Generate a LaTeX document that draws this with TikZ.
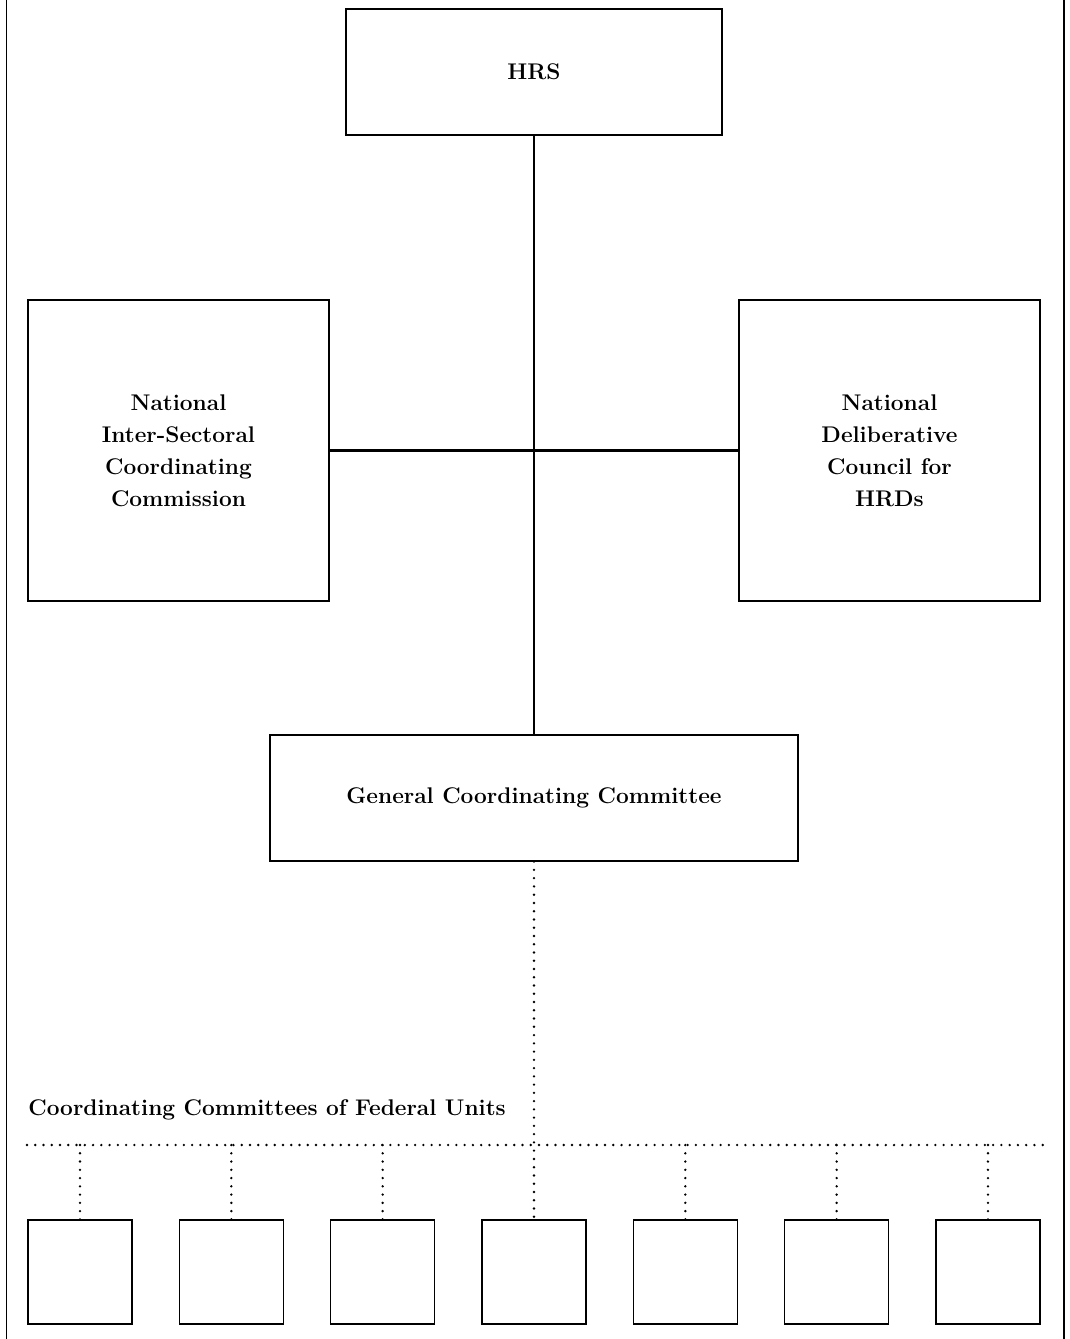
\documentclass[tikz,border=0pt]{standalone}
\usetikzlibrary{positioning}
\begin{document}
\begin{tikzpicture} [x=0.02cm, y=-0.02cm,
    box/.style={draw, line width=0.75pt, align=center, inner sep=2pt,
                font=\fontsize{12.9}{18.2}\selectfont\bfseries},
    unit/.style={draw, line width=0.75pt, minimum width=2.08cm, minimum height=2.08cm},
    link/.style={line width=1.3pt},
    dots/.style={line width=1.5pt, line cap=round, dash pattern=on 0pt off 4.7pt},
]
    \useasboundingbox (0,0) rectangle (1069,1339);
    % page rules
    \draw [line width=0.75pt] (6.5,0) -- (6.5,1339);
    \draw [line width=0.75pt] (1064,0) -- (1064,1339);

    \node [box, minimum width=7.52cm, minimum height=2.52cm] (hrs) at (534,72) {HRS};
    \node [box, minimum width=6.02cm, minimum height=6.02cm] (nisc) at (178.5,450.5)
        {National\\Inter-Sectoral\\Coordinating\\Commission};
    \node [box, minimum width=6.02cm, minimum height=6.02cm] (ndc) at (889.5,450.5)
        {National\\Deliberative\\Council for\\HRDs};
    \node [box, minimum width=10.56cm, minimum height=2.52cm] (gcc) at (534,798)
        {General Coordinating Committee};

    \draw [link] (hrs) -- (gcc);
    \draw [link] (nisc) -- (ndc);

    \node [anchor=base west, inner sep=0pt, font=\fontsize{12.9}{18.2}\selectfont\bfseries]
        (ccfu) at (28,1115) {Coordinating Committees of Federal Units};

    \coordinate (busL) at (27,1145);
    \coordinate (busR) at (1050,1145);
    \draw [dots] (busL) -- (busR);

    \foreach \i in {1,...,7}
        \node [unit] (u\i) at ({80+151.33*(\i-1)},1272) {};
    \foreach \i in {1,2,3,5,6,7}
        \draw [dots] (u\i.north) -- (u\i.north |- busL);
    \draw [dots] (gcc) -- (u4);
\end{tikzpicture}
\end{document}
